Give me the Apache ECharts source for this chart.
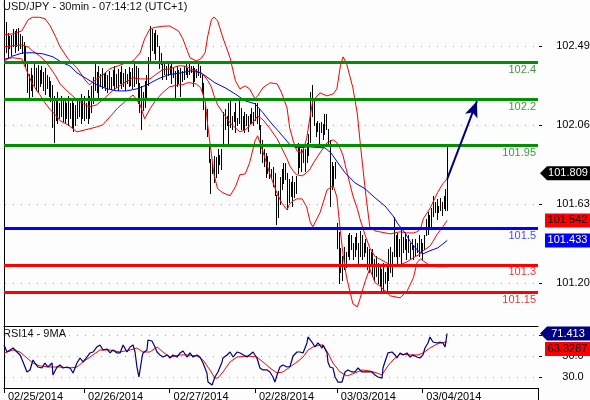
<!DOCTYPE html>
<html>
<head>
<meta charset="utf-8">
<title>USD/JPY 30min</title>
<script src="https://cdn.jsdelivr.net/npm/echarts@6/dist/echarts.min.js"></script>
<style>
  html, body { margin: 0; padding: 0; background: #fcfdfc; }
  #chart { width: 590px; height: 400px; }
</style>
</head>
<body>
<div id="chart"></div>
<script>
// x axis is counted in 30 minute bars, bar 0 = left edge of the plot
var dayStarts = [0, 45, 93, 141, 187, 235];
var dayLabels = ['02/25/2014', '02/26/2014', '02/27/2014', '02/28/2014', '03/03/2014', '03/04/2014'];

// bar highs / lows, bars 1..249
var highs = [
  102.619,102.56,102.545,102.55,102.58,102.57,102.58,102.59,102.555,102.545,102.51,102.49,
  102.40,102.34,102.37,102.33,
  102.39,102.37,102.385,102.36,102.38,102.35,102.37,102.33,
  102.32,102.30,102.28,102.22,
  102.19,102.24,102.18,102.22,102.20,102.21,102.18,102.22,102.18,102.19,102.18,102.17,
  102.21,102.19,102.23,102.20,102.22,102.18,102.25,102.22,
  102.27,102.32,102.39,102.35,102.38,102.34,
  102.37,102.34,102.35,102.33,102.355,102.32,102.36,102.38,102.34,102.365,102.35,102.38,102.345,102.365,102.34,102.375,102.35,102.37,
  102.40,102.38,102.37,102.29,102.27,102.24,
  102.30,102.33,102.43,102.60,
  102.58,102.56,102.575,102.55,102.49,102.45,
  102.40,102.39,102.38,102.39,102.38,102.40,102.37,102.355,102.38,102.36,102.37,102.355,102.38,102.40,102.37,102.39,102.38,102.38,102.37,102.365,102.39,102.38,
  102.34,102.29,102.18,102.15,
  101.95,101.875,101.86,101.89,101.885,101.93,101.90,101.93,102.13,102.15,102.11,102.18,102.20,102.11,102.13,102.18,102.10,102.19,102.155,102.11,102.13,102.12,102.11,102.12,102.155,102.13,102.18,102.18,102.15,
  102.06,101.98,
  101.93,101.91,101.89,101.86,101.82,101.83,101.80,
  101.68,101.70,
  101.78,101.82,101.855,101.855,101.80,101.765,101.75,101.785,101.75,101.785,
  101.96,
  101.94,101.93,101.94,101.93,101.965,
  102.01,102.24,102.28,102.21,
  102.07,102.085,102.07,102.075,102.065,102.12,102.12,102.04,
  101.98,101.86,101.84,101.86,
  101.53,101.48,
  101.39,101.35,101.40,101.37,
  101.465,101.475,101.46,101.42,101.45,101.475,101.42,101.485,101.46,101.42,101.44,
  101.40,101.385,101.37,101.385,
  101.33,101.35,101.31,101.295,101.28,101.31,101.26,101.295,
  101.385,101.40,101.37,
  101.56,
  101.46,101.475,101.44,101.495,101.45,101.475,101.44,101.46,101.42,101.44,101.405,101.44,101.42,101.46,101.44,101.42,101.46,
  101.55,101.585,101.57,101.61,
  101.675,101.64,101.66,101.62,101.665,101.64,101.675,101.71,
  101.94
];
var lows = [
  102.455,102.43,102.48,102.44,102.49,102.46,102.49,102.47,102.48,102.45,102.40,102.38,
  102.24,102.21,102.25,102.22,
  102.28,102.25,102.24,102.27,102.29,102.25,102.23,102.26,
  102.22,102.19,102.05,101.97,
  102.09,102.07,102.10,102.11,102.08,102.075,102.10,102.06,102.10,102.05,102.03,102.06,
  102.10,102.11,102.07,102.10,102.09,102.10,102.07,102.10,
  102.13,102.18,102.25,102.24,102.20,102.27,
  102.26,102.27,102.25,102.24,102.26,102.255,102.28,102.255,102.265,102.25,102.29,102.26,102.275,102.25,102.29,102.27,102.28,102.26,
  102.27,102.29,102.18,102.13,102.04,102.14,
  102.16,102.20,102.28,102.40,
  102.47,102.45,102.42,102.49,102.37,102.39,
  102.31,102.34,102.31,102.33,102.34,102.29,102.32,102.21,102.27,102.29,102.22,102.30,102.31,102.34,102.32,102.34,102.35,102.27,102.30,102.32,102.33,102.32,
  102.24,102.15,102.04,102.00,
  101.86,101.69,101.80,101.75,101.78,101.80,101.85,101.82,101.95,102.04,102.06,101.96,102.05,102.04,102.08,102.02,102.06,102.07,102.04,102.04,102.02,102.06,102.03,102.07,102.07,102.06,102.09,102.07,102.04,
  101.91,101.86,
  101.84,101.78,101.80,101.77,101.78,101.73,101.68,
  101.52,101.56,
  101.63,101.71,101.745,101.765,101.605,101.64,101.675,101.62,101.67,101.69,
  101.80,
  101.83,101.81,101.86,101.81,101.86,
  101.90,101.97,102.11,102.06,
  102.00,102.03,101.965,102.02,101.985,102.01,102.04,101.965,
  101.62,101.71,101.73,101.77,
  101.39,101.20,
  101.26,101.22,101.28,101.29,
  101.35,101.33,101.385,101.33,101.35,101.385,101.31,101.35,101.33,101.35,101.37,
  101.28,101.26,101.30,101.24,
  101.22,101.24,101.20,101.19,101.16,101.15,101.20,101.15,
  101.22,101.26,101.24,
  101.35,
  101.35,101.31,101.35,101.295,101.37,101.385,101.33,101.37,101.33,101.385,101.33,101.35,101.37,101.35,101.37,101.33,101.385,
  101.46,101.47,101.495,101.51,
  101.565,101.585,101.55,101.585,101.60,101.57,101.61,101.60,
  101.60
];
var lastClose = 101.809;

// Bollinger bands, sampled at these bar positions
var bandX = [0,5,10,13.5,16,20,23,26,29,31.5,36,41,45.5,48,52,55.5,59.5,64,68.5,72.5,
  76.5,79,82,85,89,93,98,100.5,103,104.5,108,110.5,113,114.5,116.5,118,120,123,127,130,
  132.5,135.5,138,141,142.5,145.5,149.5,153.5,156,159,160.5,162.5,164.5,167.5,170,172,173.5,177.5,181.5,185,
  187,189,190.5,192.5,196,198.5,200,203,205.5,208.5,211,217,222.5,226.5,230,232,234,235.5,239.5,243.5,246.5,249];
var bbUpper = [102.551,102.556,102.572,102.632,102.646,102.646,102.638,102.599,102.540,102.485,
  102.420,102.371,102.306,102.279,102.311,102.333,102.366,102.382,102.398,102.409,
  102.453,102.529,102.583,102.591,102.597,102.599,102.572,102.529,102.464,102.426,
  102.409,102.420,102.453,102.545,102.632,102.648,102.627,102.534,102.426,102.301,
  102.257,102.273,102.257,102.203,102.219,102.263,102.290,102.284,102.235,102.154,
  102.045,101.974,101.920,101.909,101.985,102.110,102.192,102.235,102.219,102.230,
  102.257,102.382,102.431,102.393,102.263,102.121,101.974,101.703,101.507,101.485,
  101.480,101.469,101.480,101.474,101.474,101.480,101.496,101.550,101.610,101.692,
  101.741,101.768];
var bbMid = [102.485,102.491,102.496,102.485,102.464,102.436,102.409,102.371,102.328,102.284,
  102.241,102.197,102.170,102.159,102.170,102.197,102.235,102.268,102.295,102.317,
  102.311,102.311,102.311,102.333,102.360,102.366,102.382,102.382,102.377,102.366,
  102.355,102.344,102.322,102.301,102.268,102.219,102.170,102.127,102.072,102.045,
  102.023,102.034,102.056,102.089,102.110,102.089,102.040,101.985,101.936,101.877,
  101.839,101.811,101.790,101.784,101.801,101.822,101.849,101.909,101.964,101.980,
  101.964,101.931,101.893,101.811,101.676,101.605,101.550,101.458,101.393,101.344,
  101.333,101.300,101.300,101.317,101.339,101.350,101.360,101.377,101.404,101.469,
  101.507,101.542];
var bbLower = [102.420,102.426,102.420,102.339,102.282,102.227,102.181,102.143,102.116,102.083,
  102.061,102.023,102.034,102.040,102.050,102.061,102.105,102.154,102.192,102.224,
  102.170,102.094,102.148,102.192,102.235,102.268,102.279,102.279,102.290,102.290,
  102.284,102.263,102.192,102.056,101.904,101.790,101.714,101.692,101.676,101.724,
  101.790,101.795,101.855,101.974,102.002,101.915,101.790,101.686,101.638,101.599,
  101.632,101.648,101.659,101.659,101.616,101.534,101.507,101.583,101.708,101.730,
  101.670,101.480,101.355,101.230,101.089,101.072,101.116,101.214,101.279,101.203,
  101.187,101.132,101.121,101.159,101.230,101.311,101.333,101.322,101.295,101.290,
  101.290,101.290];

// blue moving average
var maX = [0,5,10.7,16.3,22,27.5,33,37,41,46.6,52.2,57.9,63.5,69,74.7,80.3,86.5,92,99.4,105,
  110.7,114.6,118.5,124.2,129.8,135.4,141,145.5,150,154,157.9,161.2,165.2,170.8,180.3,183.7,187.6,191.6,197.2,202.8,
  208.4,214,218.5,221.3,225.3,228.7,232.6,235.4,239.3,243.8,249];
var maVals = [102.409,102.436,102.453,102.453,102.447,102.431,102.398,102.382,102.344,102.311,
  102.279,102.257,102.246,102.246,102.257,102.279,102.311,102.333,102.344,102.355,
  102.344,102.317,102.290,102.263,102.230,102.192,102.176,102.127,102.072,102.029,
  101.985,101.947,101.936,101.942,101.936,101.909,101.855,101.801,101.746,101.714,
  101.665,101.621,101.567,101.523,101.474,101.420,101.377,101.360,101.377,101.393,
  101.433];

// support / resistance levels and the forecast arrow
var levelValues = [102.4, 102.2, 101.95, 101.5, 101.3, 101.15];
var arrowFrom = [249, 101.768];
var arrowTo = [265.7, 102.19];

// RSI14 and its 9MA
var rsiX = [0,1.7,3.4,5.1,7.3,9,10.7,12.9,14.6,16.3,17.4,19.1,21.3,23,24.7,27,27.5,29.8,31.5,33.1,
  35.4,37.1,38.8,41,42.7,44.4,46.6,48.3,50,52.2,53.9,55.6,57.9,59.6,61.2,63.5,65.2,66.9,69.1,70.8,
  72.5,73.6,74.7,75.8,77.5,78.1,80.3,80.9,83.1,84.3,86,87.6,89.3,91.6,93.3,94.9,97.2,98.9,100.6,102.8,
  104.5,106.2,108.4,110.1,111.8,114,114.6,116.9,117.4,118.5,120.2,122.5,123,125.3,127,128.7,130.9,132.6,136.5,139.9,
  142.1,143.8,145.5,147.8,149.4,151.1,152.2,153.4,155,156.7,159,160.7,162.4,164.6,166.3,168,170.2,170.8,171.9,173,
  174.7,176.4,178.7,179.2,181.5,182,183.1,184.8,186,187.6,189.9,190.4,191.6,193.3,195.5,197.2,198.9,201.1,203.9,206.7,
  208.4,210.1,212.4,212.9,214,215.7,218,219.7,220.8,222.5,224.2,226.4,228.1,229.8,232,233.7,235.4,236.5,238.2,239.3,
  241,243.3,244.9,246.6,247.8,248.9];
var rsiVals = [60.5,53.8,55.7,57.6,53.8,51,44.3,34.8,36.7,46.2,43.3,39.5,38.6,43.3,39.5,43.3,31.9,39.5,41.4,38.6,
  39.5,38.6,33.8,43.3,48.1,44.3,49,52.9,53.8,58.6,60.5,55.7,56.7,52.9,55.7,52.9,52.9,60.5,53.8,58.6,
  60.5,53.8,39.5,30,48.1,52.9,55.7,65.2,64.3,60.5,53.8,51,49,51,48.1,51,49,52.9,54.8,49,
  52.9,49,51,49,43.3,33.8,25.2,22.4,20.5,30,34.8,44.3,48.1,51,53.8,49,53.8,52.9,49,53.8,
  48.1,38.6,36.7,36.7,34.8,30,25.2,31.9,39.5,41.4,39.5,40,50,53.8,53.8,52.9,62.4,68.1,70,63.3,
  58.6,62.4,57.6,60.5,52.9,44.3,39.5,38.6,30,25.2,25.2,27.1,34.8,36.7,34.8,34.8,38.6,34.8,34.8,34.8,
  31.9,30,29,38.6,44.3,52.9,53.8,51,48.1,52.9,51,52.9,49,51,49,48.1,51,57.6,62.4,68.1,
  63.3,62.4,63.3,62.4,58.6,71.413];
var rsiMaX = [0,5.1,9,12.9,16.3,20.2,25.8,31.5,37.1,41,44.4,48.3,53.9,59.6,65.2,70.8,74.7,78.1,82,86,
  89.3,93.3,98.9,102.8,108.4,111.8,115.7,118.5,120.2,123,127,130.9,136.5,142.1,145.5,149.4,153.4,156.7,160.7,164.6,
  168,170.8,173.6,177.5,179.2,182,184.8,188.8,192.7,197.2,201.1,205.6,209.6,212.4,215.2,218.5,222.5,228.1,232.6,235.4,
  239.3,243.3,247.8,248.9];
var rsiMaVals = [52.9,55.7,53.8,48.1,43.3,40.5,39.5,39.5,38.6,39.5,44.3,49,55.7,55.7,53.8,55.7,57.6,53.8,53.8,58.6,
  53.8,49,51,51,50,46.2,36.7,29,29,34.8,44.3,49,50,49,44.3,38.6,33.8,34.8,39.5,44.3,
  49,55.7,58.6,60.5,60.5,52.9,43.3,34.8,31,33.8,36.7,35.7,33.8,31.9,39.5,46.2,51.9,51,51,52.9,
  57.6,61.4,63.3,63.3287];

var priceTicks = [102.49, 102.06, 101.63, 101.20];
var rsiTicks = [30, 50, 70];

var FONT = 'Liberation Sans, Arial, sans-serif';
var XMAX = 300;

function pairs(xs, ys) {
  return xs.map(function (x, k) { return [x, ys[k]]; });
}

function levelColor(v) {
  if (v > 101.9) return '#009100';
  if (v > 101.4) return '#0000ff';
  return '#ff0000';
}
function levelTextColor(v) {
  if (v > 101.9) return '#3d9a3d';
  if (v > 101.4) return '#4848ff';
  return '#e53a3a';
}

// price tag on the right hand scale
function tag(value, bg, fg, pointer, dy) {
  return {
    coord: [XMAX, value],
    value: value,
    symbol: pointer ? 'path://M0,7L7,0L50,0L50,14L7,14Z' : 'rect',
    symbolSize: pointer ? [50, 14] : [45, 14],
    symbolOffset: pointer ? [27, dy] : [29.5, dy],
    itemStyle: { color: bg },
    label: {
      show: true, position: 'inside', color: fg, fontSize: 11, fontFamily: FONT,
      offset: pointer ? [3, 0] : [0, 0],
      formatter: String(value)
    }
  };
}

function renderBar(params, api) {
  var top = api.coord([api.value(0), api.value(1)]);
  var bot = api.coord([api.value(0), api.value(2)]);
  var x = Math.round(top[0]) + 0.5;
  return {
    type: 'line',
    shape: { x1: x, y1: Math.round(top[1]), x2: x, y2: Math.round(bot[1]) + 1 },
    style: { stroke: '#000', lineWidth: 1 }
  };
}

// dotted guide line at each labelled value (1px dots every 8px) plus a short tick on the right scale
function renderGuide(params, api) {
  var p = api.coord([0, api.value(0)]);
  var y = Math.round(p[1]);
  var left = Math.round(p[0]);
  var right = left + Math.round(api.size([XMAX, 0])[0]);
  var parts = [];
  for (var x = left + 1; x < right - 2; x += 8) {
    parts.push({ type: 'rect', shape: { x: x, y: y, width: 1, height: 1 }, style: { fill: '#a9a9a9' } });
  }
  parts.push({ type: 'rect', shape: { x: right + 1, y: y, width: 3, height: 1 }, style: { fill: '#000' } });
  return { type: 'group', children: parts };
}

var chart = echarts.init(document.getElementById('chart'));

chart.setOption({
  animation: false,
  backgroundColor: '#fcfdfc',
  textStyle: { fontFamily: FONT },
  title: [
    { text: 'USD/JPY - 30min - 07:14:12 (UTC+1)', left: 3, top: 1, padding: 0,
      textStyle: { fontSize: 11, fontWeight: 'normal', color: '#111', fontFamily: FONT } },
    { text: 'RSI14 - 9MA', left: 3, top: 328, padding: 0,
      textStyle: { fontSize: 11, fontWeight: 'normal', color: '#111', fontFamily: FONT } }
  ],
  grid: [
    { left: 4, right: 52, top: 0, height: 326, outerBoundsMode: 'none' },
    { left: 4, right: 52, top: 326, height: 62, outerBoundsMode: 'none' }
  ],
  xAxis: [
    { type: 'value', gridIndex: 0, min: 0, max: XMAX, show: false },
    { type: 'value', gridIndex: 1, min: 0, max: XMAX,
      axisLine: { show: true, lineStyle: { color: '#000', width: 1 } },
      axisTick: { show: true, customValues: dayStarts, length: 5, lineStyle: { color: '#000' } },
      axisLabel: { show: true, customValues: dayStarts, align: 'left', margin: 3, padding: [0, 0, 0, 4],
        color: '#000', fontSize: 11, fontFamily: FONT,
        formatter: function (v) { return dayLabels[dayStarts.indexOf(v)]; } },
      splitLine: { show: false } },
    { type: 'value', gridIndex: 1, min: 0, max: XMAX, position: 'top',
      axisLine: { show: true, lineStyle: { color: '#000', width: 1 } },
      axisTick: { show: false }, axisLabel: { show: false }, splitLine: { show: false } }
  ],
  yAxis: [
    { type: 'value', gridIndex: 0, position: 'right', min: 100.968, max: 102.740,
      axisLine: { show: true, lineStyle: { color: '#000', width: 1 } },
      axisTick: { show: false },
      axisLabel: { customValues: priceTicks, align: 'center', margin: 35, color: '#000', fontSize: 11, fontFamily: FONT,
        formatter: function (v) { return v.toFixed(2); } },
      splitLine: { show: false } },
    { type: 'value', gridIndex: 1, position: 'right', min: 19.52, max: 78.57,
      axisLine: { show: true, lineStyle: { color: '#000', width: 1 } },
      axisTick: { show: false },
      axisLabel: { customValues: rsiTicks, align: 'center', margin: 35, color: '#000', fontSize: 11, fontFamily: FONT,
        formatter: function (v) { return v.toFixed(1); } },
      splitLine: { show: false } }
  ],
  graphic: [
    { type: 'line', shape: { x1: 538.5, y1: 388, x2: 538.5, y2: 400 }, style: { stroke: '#000', lineWidth: 1 } }
  ],
  series: [
    {
      name: 'priceGuides', type: 'custom', xAxisIndex: 0, yAxisIndex: 0,
      renderItem: renderGuide, encode: { y: 0 }, data: priceTicks.map(function (v) { return [v]; }),
      silent: true, clip: false, z: 1
    },
    {
      name: 'rsiGuides', type: 'custom', xAxisIndex: 1, yAxisIndex: 1,
      renderItem: renderGuide, encode: { y: 0 }, data: rsiTicks.map(function (v) { return [v]; }),
      silent: true, clip: false, z: 1
    },
    {
      name: 'bars', type: 'custom', xAxisIndex: 0, yAxisIndex: 0,
      renderItem: renderBar, encode: { x: 0, y: [1, 2] },
      data: highs.map(function (h, k) { return [k + 1, h, lows[k]]; }),
      silent: true, z: 2
    },
    {
      name: 'upper', type: 'line', xAxisIndex: 0, yAxisIndex: 0, data: pairs(bandX, bbUpper),
      showSymbol: false, silent: true, lineStyle: { color: '#ff0000', width: 1 }, z: 3,
      markLine: {
        silent: true, symbol: ['none', 'arrow'], symbolSize: [10, 16], z: 6,
        label: { show: false },
        lineStyle: { color: '#000080', width: 2, type: 'solid' },
        data: [[{ coord: arrowFrom }, { coord: arrowTo }]]
      }
    },
    {
      name: 'lower', type: 'line', xAxisIndex: 0, yAxisIndex: 0, data: pairs(bandX, bbLower),
      showSymbol: false, silent: true, lineStyle: { color: '#ff0000', width: 1 }, z: 3
    },
    {
      name: 'middle', type: 'line', xAxisIndex: 0, yAxisIndex: 0, data: pairs(bandX, bbMid),
      showSymbol: false, silent: true, lineStyle: { color: '#ff0000', width: 1 }, z: 3,
      markPoint: { silent: true, data: [
        tag(lastClose, '#000000', '#ffffff', true, 2),
        tag(bbMid[bbMid.length - 1], '#ff0000', '#000000', false, 0)
      ] }
    },
    {
      name: 'ma', type: 'line', xAxisIndex: 0, yAxisIndex: 0, data: pairs(maX, maVals),
      showSymbol: false, silent: true, lineStyle: { color: '#0000ff', width: 1 }, z: 3,
      markPoint: { silent: true, data: [ tag(maVals[maVals.length - 1], '#0000ff', '#ffffff', false, 0) ] },
      markLine: {
        silent: true, symbol: ['none', 'none'], z: 5,
        data: levelValues.map(function (v) {
          return {
            yAxis: v,
            lineStyle: { color: levelColor(v), width: 3, type: 'solid' },
            label: { show: true, position: 'insideEndBottom', distance: [2, 2], color: levelTextColor(v),
              fontSize: 11, fontFamily: FONT, formatter: String(v) }
          };
        })
      }
    },
    {
      name: 'rsi', type: 'line', xAxisIndex: 1, yAxisIndex: 1, data: pairs(rsiX, rsiVals),
      showSymbol: false, silent: true, lineStyle: { color: '#000080', width: 1.2 }, z: 4,
      markPoint: { silent: true, data: [ tag(rsiVals[rsiVals.length - 1], '#000080', '#ffffff', true, 0) ] }
    },
    {
      name: 'rsiMa', type: 'line', xAxisIndex: 1, yAxisIndex: 1, data: pairs(rsiMaX, rsiMaVals),
      showSymbol: false, silent: true, lineStyle: { color: '#ff0000', width: 1 }, z: 3,
      markPoint: { silent: true, data: [ tag(rsiMaVals[rsiMaVals.length - 1], '#ff0000', '#000000', false, 7) ] }
    }
  ]
});
</script>
</body>
</html>
